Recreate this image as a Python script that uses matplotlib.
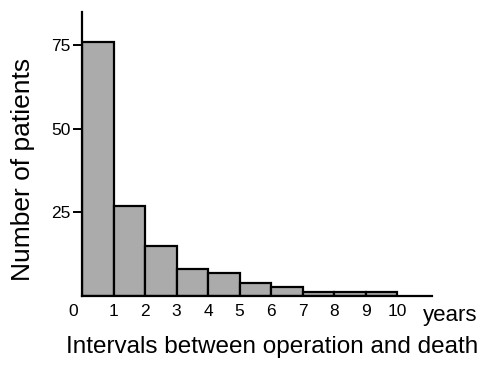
import matplotlib
matplotlib.use("Agg")
import matplotlib.pyplot as plt

plt.rcParams['font.family'] = ['Liberation Sans', 'DejaVu Sans']

bin_edges = [0, 1, 2, 3, 4, 5, 6, 7, 8, 9, 10]
counts = [76, 27, 15, 8, 7, 4, 2.8, 1.3, 1.3, 1.3]
ytick_vals = [25, 50, 75]
xtick_vals = [1, 2, 3, 4, 5, 6, 7, 8, 9, 10]

W, H = 485, 365
fig = plt.figure(figsize=(W / 100, H / 100), dpi=100)
ax = fig.add_axes([82 / W, (H - 296) / H, 393.75 / W, 284 / H])

lefts = bin_edges[:-1]
widths = [bin_edges[i + 1] - bin_edges[i] for i in range(len(lefts))]
ax.bar(lefts, counts, width=widths, align='edge', color='#ababab',
       edgecolor='black', linewidth=1.6)

ax.set_xlim(0, 12.5)
ax.set_ylim(0, 85)

for s in ['top', 'right']:
    ax.spines[s].set_visible(False)
ax.spines['left'].set_linewidth(1.6)
ax.spines['bottom'].set_linewidth(1.6)
ax.spines['bottom'].set_bounds(0, 11.1)

ax.set_yticks(ytick_vals)
ax.set_yticklabels([str(v) for v in ytick_vals], fontsize=12.5)
ax.tick_params(axis='y', direction='out', length=6.5, width=1.4, pad=2)

ax.set_xticks(xtick_vals)
ax.set_xticklabels([str(v) for v in xtick_vals], fontsize=12.5)
ax.tick_params(axis='x', length=0, pad=6)

ax.text(-0.29, -4.6, '0', fontsize=12.5, ha='center', va='center')
ax.text(11.68, -5.8, 'years', fontsize=16, ha='center', va='center')

ax.set_ylabel('Number of patients', fontsize=19)
ax.yaxis.label.set_va('center')
ax.yaxis.label.set_ha('center')
ax.yaxis.set_label_coords(-0.15, 0.444)

ax.set_xlabel('Intervals between operation and death', fontsize=17.5)
ax.xaxis.label.set_va('center')
ax.xaxis.set_label_coords(0.483, -0.18)

fig.savefig('out.png', dpi=100)
